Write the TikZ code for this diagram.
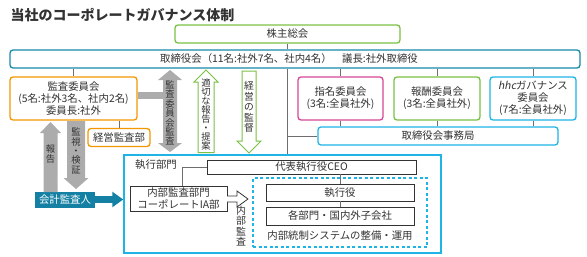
\documentclass[tikz,border=0pt]{standalone}
\usepackage{fontspec}
\setmainfont[AutoFakeSlant=0.2]{Noto Sans CJK JP}
\usepackage{xcolor}
\usetikzlibrary{arrows.meta}

\definecolor{ggreen}{RGB}{122,193,67}
\definecolor{bteal}{RGB}{23,137,170}
\definecolor{aorange}{RGB}{243,152,0}
\definecolor{npink}{RGB}{214,70,150}
\definecolor{lblue}{RGB}{30,180,230}
\definecolor{agray}{RGB}{172,172,172}
\definecolor{lgray}{RGB}{110,110,110}
\definecolor{txt}{RGB}{50,50,50}
\definecolor{acctfill}{RGB}{20,128,163}

\begin{document}
\begin{tikzpicture}[
    x=1pt, y=-1pt,
    every node/.style={text=txt, font=\fontsize{10.4}{12}\selectfont},
    box/.style={draw, rounded corners=3pt, line width=1.3pt, fill=white,
                inner sep=0pt, align=center},
    plainbox/.style={draw=black!80, line width=0.8pt, fill=white,
                     inner sep=0pt, align=center},
    vtext/.style={align=center, inner sep=0pt, font=\fontsize{9.3}{9.4}\selectfont},
    conn/.style={draw=lgray, line width=0.9pt},
    openarrow/.style={draw=ggreen, line width=1pt, fill=white}
]
\useasboundingbox (0,0) rectangle (587,257);

% title
\node[anchor=west, font=\bfseries\fontsize{14}{16}\selectfont] (title) at (7,15)
    {当社のコーポレートガバナンス体制};

% board level
\node[box, draw=ggreen, minimum width=225pt, minimum height=18pt] (gm) at (287.5,34) {株主総会};
\node[box, draw=bteal, minimum width=570pt, minimum height=18pt] (board) at (295,59)
    {取締役会（11名:社外7名、社内4名）　議長:社外取締役\hspace{12pt}};

% committees
\node[box, draw=aorange, minimum width=127pt, minimum height=43pt] (audit) at (73.5,98.5)
    {監査委員会\\(5名:社外3名、社内2名)\\委員長:社外};
\node[box, draw=aorange, minimum width=62pt, minimum height=18pt] (mgmtaudit) at (119,137.5) {経営監査部};
\node[box, draw=npink, minimum width=85pt, minimum height=43pt] (nom) at (340.5,98.5)
    {指名委員会\\(3名:全員社外)};
\node[box, draw=ggreen, minimum width=86pt, minimum height=43pt] (comp) at (437,98.5)
    {報酬委員会\\(3名:全員社外)};
\node[box, draw=lblue, minimum width=86pt, minimum height=43pt] (hhc) at (533,98.5)
    {\textit{hhc}ガバナンス\\委員会\\(7名:全員社外)};
\node[box, draw=lblue, minimum width=240pt, minimum height=18pt] (office) at (438,136) {取締役会事務局};

% execution
\node[draw=lblue, line width=1.5pt, minimum width=317pt, minimum height=98pt, inner sep=0pt] (exec) at (282.5,204) {};
\node (execlbl) at (156,165) {執行部門};
\node[plainbox, minimum width=209pt, minimum height=14pt] (ceo) at (311.5,167) {代表執行役CEO};
\node[draw=lblue, line width=1.5pt, dash pattern=on 3pt off 2.5pt, minimum width=174pt,
      minimum height=69pt, inner sep=0pt] (ics) at (340,212.5) {};
\node[plainbox, minimum width=148pt, minimum height=17pt] (officer) at (340,192.5) {執行役};
\node[plainbox, minimum width=148pt, minimum height=18pt] (units) at (340,216) {各部門・国内外子会社};
\node (icslbl) at (340,236) {内部統制システムの整備・運用};
\node[plainbox, minimum width=97pt, minimum height=25pt, font=\fontsize{10.4}{12.5}\selectfont] (ia) at (178.5,198.5)
    {内部監査部門\\コーポレートIA部};
\node[vtext, font=\fontsize{10}{10.5}\selectfont] (ialbl) at (241,226) {内\\部\\監\\査};

% accounting auditor
\node[fill=acctfill, text=white, minimum width=60pt, minimum height=16pt, inner sep=0pt] (acct) at (65,199.5) {会計監査人};

% lines
\draw[conn] (gm.south) -- (gm.south |- board.north);
\draw[conn] (gm.south |- board.south) -- (gm.south |- exec.north);
\draw[conn] (gm.south |- office.west) -- (office.west);
\draw[conn] (audit.north |- board.south) -- (audit.north);
\foreach \c in {nom,comp,hhc} {
    \draw[conn] (\c.north |- board.south) -- (\c.north);
    \draw[conn] (\c.south) -- (\c.south |- office.north);
}
\draw[conn] (audit.south -| mgmtaudit.north) -- (mgmtaudit.north);
\draw[conn] ([xshift=4pt]ia.north) |- (ceo.west);
\draw[conn] (ceo.south -| officer.north) -- (officer.north);
\draw[conn] (officer.south) -- (units.north);

% audit committee audit
\draw[agray, line width=7pt] ([yshift=3pt]audit.east) -- ++(30,0);
\fill[agray] (170,70) -- (182,80) -- (177,80) -- (177,143) -- (182,143) -- (170,152)
    -- (158,143) -- (163,143) -- (163,80) -- (158,80) -- cycle;
\node[vtext] (aclbl) at (170,113) {監\\査\\委\\員\\会\\監\\査};

% reporting / supervision
\draw[openarrow] (206,70) -- (218,82) -- (214,82) -- (214,152.5) -- (198,152.5)
    -- (198,82) -- (194,82) -- cycle;
\node[vtext, font=\fontsize{9.3}{9}\selectfont] (replbl) at (206,114) {適\\切\\な\\報\\告\\・\\提\\案};
\draw[openarrow] (242,71) -- (256,71) -- (256,141) -- (261,141) -- (249,153)
    -- (237,141) -- (242,141) -- cycle;
\node[vtext, font=\fontsize{9.8}{10.5}\selectfont] (suplbl) at (249,107) {経\\営\\の\\監\\督};

% accounting auditor arrows
\fill[agray] (50.5,122) -- (61,133) -- (57.5,133) -- (57.5,192) -- (43.5,192)
    -- (43.5,133) -- (40,133) -- cycle;
\node[vtext] (rptlbl) at (50.5,154) {報\\告};
\fill[agray] (67,121) -- (85,121) -- (85,178) -- (88.5,178) -- (76,189)
    -- (63.5,178) -- (67,178) -- cycle;
\node[vtext] (chklbl) at (76,151) {監\\視\\・\\検\\証};
\draw[acctfill, line width=7pt, -{Triangle[length=11pt, width=15pt]}] (acct.east) -- (acct.east -| exec.west);

% internal audit arrow
\filldraw[draw=black!80, line width=0.8pt, fill=white] (227,196) -- (237,196) -- (237,191)
    -- (248,199) -- (237,207) -- (237,202) -- (227,202);
\end{tikzpicture}
\end{document}
